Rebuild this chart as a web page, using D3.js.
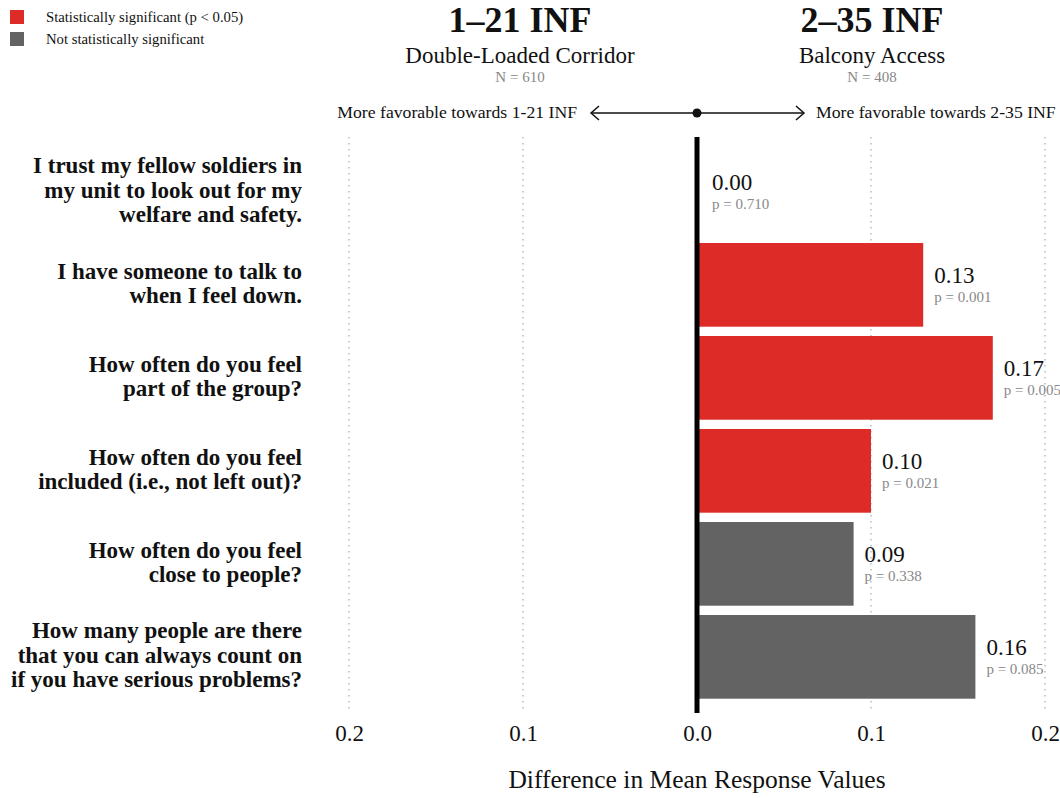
<!DOCTYPE html>
<html>
<head>
<meta charset="utf-8">
<script src="https://cdn.jsdelivr.net/npm/d3@7"></script>
<style>
  body { margin: 0; background: #fff; }
  svg { display: block; }
  svg text { font-family: "Liberation Serif", "DejaVu Serif", serif; }
</style>
</head>
<body>
<svg id="chart" width="1060" height="798"></svg>
<script>
// Survey items (each line of the wrapped label)
const questions = [
  ["I trust my fellow soldiers in", "my unit to look out for my", "welfare and safety."],
  ["I have someone to talk to", "when I feel down."],
  ["How often do you feel", "part of the group?"],
  ["How often do you feel", "included (i.e., not left out)?"],
  ["How often do you feel", "close to people?"],
  ["How many people are there", "that you can always count on", "if you have serious problems?"]
];
const differences = [0.00, 0.13, 0.17, 0.10, 0.09, 0.16];
const pValues = ["0.710", "0.001", "0.005", "0.021", "0.338", "0.085"];
const significant = [false, true, true, true, false, false];
const tickValues = [-0.2, -0.1, 0.0, 0.1, 0.2];

const groups = [
  { code: "1–21 INF", name: "Double-Loaded Corridor", n: "N = 610" },
  { code: "2–35 INF", name: "Balcony Access", n: "N = 408" }
];

const RED = "#dd2c27", GREY = "#636363";

const svg = d3.select("#chart");
const ids = questions.map((q, i) => i);

const x = d3.scaleLinear().domain([-0.2, 0.2]).range([349, 1045]);
const y = d3.scaleBand().domain(ids).range([140.7, 708]).paddingInner(0.1).paddingOuter(0.1);

// Dotted vertical grid
svg.append("g").selectAll("line")
  .data(tickValues.filter(v => v !== 0))
  .join("line")
  .attr("x1", d => x(d)).attr("x2", d => x(d))
  .attr("y1", 137).attr("y2", 713)
  .attr("stroke", "#aaa").attr("stroke-width", 1.2)
  .attr("stroke-dasharray", "1.5,4.5");

// Bars
svg.append("g").selectAll("rect")
  .data(ids)
  .join("rect")
  .attr("x", x(0))
  .attr("y", i => y(i))
  .attr("width", i => x(differences[i]) - x(0))
  .attr("height", y.bandwidth())
  .attr("fill", i => significant[i] ? RED : GREY);

// Zero line
svg.append("line")
  .attr("x1", x(0)).attr("x2", x(0))
  .attr("y1", 137).attr("y2", 713)
  .attr("stroke", "#000").attr("stroke-width", 5);

// Value and p-value labels
const lbl = svg.append("g").selectAll("g")
  .data(ids)
  .join("g")
  .attr("transform", i => `translate(${x(differences[i]) + (differences[i] === 0 ? 15 : 11)},${y(i) + y.bandwidth() / 2})`);
lbl.append("text")
  .attr("y", -2)
  .attr("font-size", 23)
  .attr("fill", "#111")
  .text(i => differences[i].toFixed(2));
lbl.append("text")
  .attr("y", 17)
  .attr("font-size", 15)
  .attr("fill", "#888")
  .text(i => "p = " + pValues[i]);

// Question labels
const q = svg.append("g").selectAll("text")
  .data(ids)
  .join("text")
  .attr("text-anchor", "end")
  .attr("font-weight", "bold")
  .attr("font-size", 23)
  .attr("fill", "#111");
q.each(function(i) {
  const lines = questions[i];
  const lh = 24.5;
  const cy = y(i) + y.bandwidth() / 2;
  const first = cy - (lines.length - 1) * lh / 2 + 6;
  d3.select(this).selectAll("tspan")
    .data(lines)
    .join("tspan")
    .attr("x", 302)
    .attr("y", (d, k) => first + k * lh)
    .text(d => d);
});

// Bottom axis (absolute values)
const axis = d3.axisBottom(x).tickValues(tickValues).tickSize(0).tickPadding(0)
  .tickFormat(d => Math.abs(d).toFixed(1));
const ax = svg.append("g").attr("transform", "translate(0,724)").call(axis);
ax.attr("font-family", null);
ax.select(".domain").remove();
ax.selectAll("text")
  .attr("font-size", 23)
  .attr("fill", "#111")
  .attr("dy", "0.72em");

svg.append("text")
  .attr("x", x(0)).attr("y", 788)
  .attr("text-anchor", "middle")
  .attr("font-size", 25.5)
  .attr("fill", "#111")
  .text("Difference in Mean Response Values");

// Group headers
const headX = [520, 872];
groups.forEach((g, k) => {
  const h = svg.append("g").attr("transform", `translate(${headX[k]},0)`).attr("text-anchor", "middle");
  h.append("text").attr("y", 32).attr("font-size", 36).attr("font-weight", "bold").attr("fill", "#111").text(g.code);
  h.append("text").attr("y", 63).attr("font-size", 23).attr("fill", "#111").text(g.name);
  h.append("text").attr("y", 82).attr("font-size", 15).attr("fill", "#888").text(g.n);
});

// Direction indicator
const ay = 113;
svg.append("line").attr("x1", 591).attr("x2", 804).attr("y1", ay).attr("y2", ay)
  .attr("stroke", "#111").attr("stroke-width", 1.5);
svg.append("path").attr("d", `M599,${ay - 7} L591,${ay} L599,${ay + 7}`)
  .attr("fill", "none").attr("stroke", "#111").attr("stroke-width", 1.5);
svg.append("path").attr("d", `M796,${ay - 7} L804,${ay} L796,${ay + 7}`)
  .attr("fill", "none").attr("stroke", "#111").attr("stroke-width", 1.5);
svg.append("circle").attr("cx", x(0)).attr("cy", ay).attr("r", 4.5).attr("fill", "#111");
svg.append("text").attr("x", 577).attr("y", ay + 5).attr("text-anchor", "end")
  .attr("font-size", 17.7).attr("fill", "#111").text("More favorable towards 1-21 INF");
svg.append("text").attr("x", 816).attr("y", ay + 5)
  .attr("font-size", 17.7).attr("fill", "#111").text("More favorable towards 2-35 INF");

// Legend
const legend = [
  { label: "Statistically significant (p < 0.05)", color: RED },
  { label: "Not statistically significant", color: GREY }
];
const lg = svg.append("g").selectAll("g").data(legend).join("g")
  .attr("transform", (d, k) => `translate(10,${10 + k * 22})`);
lg.append("rect").attr("width", 14).attr("height", 14).attr("fill", d => d.color);
lg.append("text").attr("x", 36).attr("y", 12).attr("font-size", 14.7).attr("fill", "#111").text(d => d.label);
</script>
</body>
</html>
